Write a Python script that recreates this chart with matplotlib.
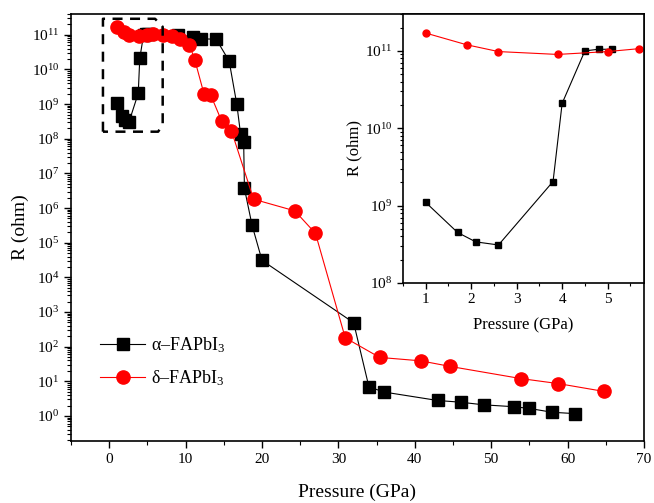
import numpy as np
import matplotlib
matplotlib.use('Agg')
import matplotlib.pyplot as plt
from matplotlib.ticker import LogLocator, MultipleLocator, NullFormatter

plt.rcParams['font.family'] = ['Liberation Serif', 'DejaVu Serif']
plt.rcParams['mathtext.fontset'] = 'custom'
plt.rcParams['mathtext.rm'] = 'Liberation Serif'
plt.rcParams['mathtext.it'] = 'Liberation Serif:italic'
plt.rcParams['mathtext.bf'] = 'Liberation Serif:bold'

# alpha-FAPbI3 (main panel)
p_alpha = [1.0, 1.7, 2.1, 2.6, 3.8, 4.0, 4.5, 4.8, 5.1, 9.0, 11.0, 12.0, 14.0,
           15.7, 16.7, 17.2, 17.6, 17.7, 18.7, 20.0, 32.0, 34.0, 36.0, 43.0,
           46.0, 49.0, 53.0, 55.0, 58.0, 61.0]
r_alpha = [1.1e9, 4.5e8, 3.4e8, 3.1e8, 2.05e9, 2.1e10, 1.0e11, 1.05e11, 1.05e11,
           1.0e11, 8.6e10, 7.6e10, 7.5e10, 1.75e10, 1.0e9, 1.35e8, 8.3e7, 3.7e6,
           3.2e5, 3.1e4, 4.9e2, 6.9, 4.9, 2.8, 2.5, 2.1, 1.85, 1.65, 1.28, 1.17]

# delta-FAPbI3 (main panel)
p_delta = [1.0, 1.9, 2.6, 3.9, 5.0, 5.7, 7.1, 8.2, 9.3, 10.5, 11.2, 12.4, 13.3,
           14.7, 16.0, 18.9, 24.3, 27.0, 30.9, 35.4, 40.8, 44.6, 53.9, 58.8, 64.8]
r_delta = [1.7e11, 1.2e11, 9.8e10, 9.0e10, 9.8e10, 1.07e11, 1.0e11, 9.0e10, 7.6e10,
           5.2e10, 1.9e10, 2.0e9, 1.8e9, 3.3e8, 1.7e8, 1.8e6, 8.3e5, 1.86e5,
           1.8e2, 49, 39, 27, 12, 8.6, 5.1]

# inset (low pressure region)
p_alpha_in = [1.0, 1.7, 2.1, 2.6, 3.8, 4.0, 4.5, 4.8, 5.1]
r_alpha_in = [1.1e9, 4.5e8, 3.4e8, 3.1e8, 2.05e9, 2.1e10, 1.0e11, 1.05e11, 1.05e11]
p_delta_in = [1.0, 1.9, 2.6, 3.9, 5.0, 5.7]
r_delta_in = [1.7e11, 1.2e11, 9.8e10, 9.0e10, 9.8e10, 1.07e11]

fig = plt.figure(figsize=(6.54, 5.03), dpi=100)
ax = fig.add_axes([0.1086, 0.1233, 0.876, 0.849])

ax.plot(p_alpha, r_alpha, color='black', lw=0.8, marker='s', ms=8.5,
        label='α–FAPbI$_3$', zorder=2)
ax.plot(p_delta, r_delta, color='red', lw=0.8, marker='o', ms=9.5,
        label='δ–FAPbI$_3$', zorder=3)

ax.set_yscale('log')
ax.set_xlim(-5, 70)
ax.set_ylim(0.19, 4e11)
ax.xaxis.set_major_locator(MultipleLocator(10))
ax.xaxis.set_minor_locator(MultipleLocator(5))
ax.yaxis.set_major_locator(LogLocator(base=10, numticks=30))
ax.yaxis.set_minor_locator(LogLocator(base=10, subs=np.arange(2, 10), numticks=30))
ax.yaxis.set_minor_formatter(NullFormatter())
ax.tick_params(which='both', direction='out', top=False, right=False, labelsize=11)
ax.tick_params(which='major', length=5, width=1)
ax.tick_params(which='minor', length=3, width=0.8)
for s in ax.spines.values():
    s.set_linewidth(1.2)
ax.set_xlabel('Pressure (GPa)', fontsize=14, labelpad=13)
ax.set_ylabel('R (ohm)', fontsize=14, labelpad=2)

# dashed box around the low pressure region
x0, x1, x2 = -0.82, 6.0, 7.0
box_x = [x0, x0, x1, x2, x2, 6.4, x0]
box_y = [1.6e8, 2.9e11, 2.9e11, 1.7e11, 2.5e8, 1.6e8, 1.6e8]
ax.plot(box_x, box_y, color='black', lw=1.8, ls=(0, (4, 3)), zorder=4)

ax.legend(loc='center left', bbox_to_anchor=(0.153, 0.281),
          bbox_transform=fig.transFigure, frameon=False, fontsize=13,
          handlelength=2.5, handletextpad=0.3, labelspacing=0.75,
          borderpad=0, borderaxespad=0)

# inset
axi = fig.add_axes([0.6162, 0.4374, 0.3685, 0.5348])
axi.set_zorder(5)
axi.plot(p_alpha_in, r_alpha_in, color='black', lw=0.8, marker='s', ms=4.5)
axi.plot(p_delta_in, r_delta_in, color='red', lw=0.8, marker='o', ms=5)
axi.set_yscale('log')
axi.set_xlim(0.5, 5.8)
axi.set_ylim(1e8, 3e11)
axi.xaxis.set_major_locator(MultipleLocator(1))
axi.xaxis.set_minor_locator(MultipleLocator(0.5))
axi.yaxis.set_major_locator(LogLocator(base=10, numticks=10))
axi.yaxis.set_minor_locator(LogLocator(base=10, subs=np.arange(2, 10), numticks=10))
axi.yaxis.set_minor_formatter(NullFormatter())
axi.tick_params(which='both', direction='out', top=False, right=False, labelsize=11)
axi.tick_params(which='major', length=4, width=1)
axi.tick_params(which='minor', length=2.5, width=0.8)
for s in axi.spines.values():
    s.set_linewidth(1.2)
axi.set_xlabel('Pressure (GPa)', fontsize=12, labelpad=8)
axi.set_ylabel('R (ohm)', fontsize=12, labelpad=2)

fig.savefig('out.png', dpi=100)
